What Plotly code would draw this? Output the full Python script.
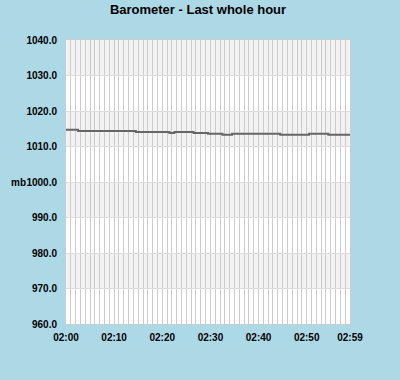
import plotly.graph_objects as go
from datetime import datetime, timedelta

# Data: barometer readings (mb) one per minute, 02:00 .. 02:59
start = datetime(2024, 1, 1, 2, 0)
times = [start + timedelta(minutes=i) for i in range(60)]
pressure = [
    1014.7, 1014.7, 1014.7,
    1014.4, 1014.4, 1014.4, 1014.4, 1014.4, 1014.4, 1014.4, 1014.4, 1014.4, 1014.4, 1014.4, 1014.4,
    1014.1, 1014.1, 1014.1, 1014.1, 1014.1, 1014.1, 1014.1,
    1013.8,
    1014.1, 1014.1, 1014.1, 1014.1,
    1013.8, 1013.8, 1013.8,
    1013.6, 1013.6, 1013.6,
    1013.3, 1013.3,
    1013.6, 1013.6, 1013.6, 1013.6, 1013.6, 1013.6, 1013.6, 1013.6, 1013.6, 1013.6,
    1013.3, 1013.3, 1013.3, 1013.3, 1013.3, 1013.3,
    1013.6, 1013.6, 1013.6, 1013.6,
    1013.3, 1013.3, 1013.3, 1013.3, 1013.3,
]
x_tick_labels = ["02:00", "02:10", "02:20", "02:30", "02:40", "02:50", "02:59"]
x_tick_minutes = [0, 10, 20, 30, 40, 50, 59]
y_min, y_max, y_step = 960, 1040, 10
band_starts = [1030, 1010, 990, 970]

font_family = "Liberation Sans, Arial, sans-serif"

fig = go.Figure()
fig.add_trace(go.Scatter(
    x=times, y=pressure, mode="lines",
    line=dict(color="#666666", width=2, shape="hvh"),
    hoverinfo="x+y", showlegend=False,
))

shapes = []
for b in band_starts:
    shapes.append(dict(type="rect", xref="paper", yref="y", x0=0, x1=1,
                       y0=b, y1=b + y_step, fillcolor="#f2f2f2",
                       line=dict(width=0), layer="below"))

fig.update_layout(
    width=400, height=380,
    paper_bgcolor="#add8e6", plot_bgcolor="#ffffff",
    margin=dict(l=66, r=50, t=40, b=56),
    title=dict(text="<b>Barometer - Last whole hour</b>", x=0.495, xanchor="center",
               y=0.975, yanchor="middle",
               font=dict(family=font_family, size=13, color="#000000")),
    shapes=shapes,
    font=dict(family=font_family, size=10, color="#000000"),
    annotations=[dict(text="<b>mb</b>", xref="paper", yref="paper", x=-0.169, y=0.5,
                      xanchor="center", yanchor="middle", showarrow=False,
                      font=dict(family=font_family, size=10, color="#000000"))],
)

fig.update_xaxes(
    type="date",
    range=[times[0], times[-1]],
    tickvals=[times[m] for m in x_tick_minutes],
    ticktext=["<b>%s</b>" % t for t in x_tick_labels],
    showgrid=True, gridcolor="#cccccc", gridwidth=1,
    minor=dict(dtick=60000, showgrid=True, gridcolor="#cccccc", gridwidth=1),
    ticks="", ticklabelstandoff=4, showline=True, linecolor="#cccccc", mirror=True,
    zeroline=False, fixedrange=True,
)
yvals = list(range(y_min, y_max + 1, y_step))
fig.update_yaxes(
    range=[y_min, y_max],
    tickvals=yvals,
    ticktext=["<b>%.1f</b>" % v for v in yvals],
    showgrid=True, gridcolor="#dddddd", gridwidth=1,
    ticks="", ticklabelstandoff=6,
    showline=True, linecolor="#cccccc", mirror=True,
    zeroline=False, fixedrange=True,
)

fig.write_html("out.html", config={"displayModeBar": False},
               post_script="document.body.style.margin='0';document.body.style.overflow='hidden';")
